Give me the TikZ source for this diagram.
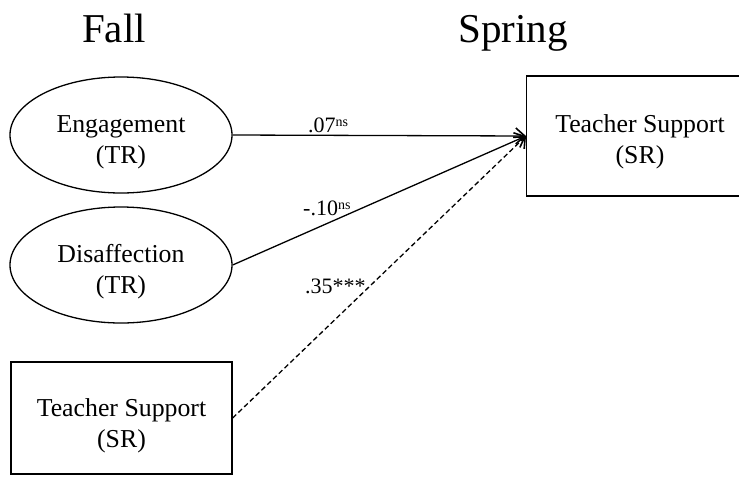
\documentclass[tikz,border=0pt]{standalone}
\usepackage{fontspec}
\setmainfont{Liberation Serif}
\usetikzlibrary{arrows.meta,shapes.geometric}
\begin{document}
\begin{tikzpicture}[x=1pt,y=-1pt,
  title/.style={font=\fontsize{41}{48}\selectfont, anchor=base, inner sep=0pt},
  oval/.style={draw, line width=1.3pt, ellipse, minimum width=222pt, minimum height=116pt, inner sep=0pt},
  boxnode/.style={draw, line width=1.3pt, rectangle, inner sep=0pt},
  txt/.style={font=\fontsize{25.8}{31}\selectfont, align=center, inner sep=0pt},
  coef/.style={font=\fontsize{22}{24}\selectfont, anchor=base west, inner sep=0pt},
  path/.style={line width=1.3pt, -{Straight Barb[length=9pt,width=16pt,line width=1.6pt]}},
  sig/.style={dash pattern=on 5pt off 3pt}
]
\useasboundingbox (0,0) rectangle (739,483);

\node[title] (fall) at (114,42) {Fall};
\node[title] (spring) at (513,42) {Spring};

\node[oval] (eng) at (121,135) {};
\node[oval] (dis) at (121,265) {};
\node[boxnode, minimum width=221pt, minimum height=112pt] (tsf) at (121.5,418) {};
\node[boxnode, minimum width=214pt, minimum height=120pt, anchor=west] (tss) at (526,136) {};

\node[txt] (engt) at ([yshift=-7pt]eng.center) {Engagement\\(TR)};
\node[txt] (dist) at ([yshift=-7pt]dis.center) {Disaffection\\(TR)};
\node[txt] (tsft) at ([yshift=-8pt]tsf.center) {Teacher Support\\(SR)};
\node[txt] (tsst) at ([yshift=-6pt]526+114,136) {Teacher Support\\(SR)};

\draw[path] (eng.east) -- (tss.west);
\draw[path] (dis.east) -- (tss.west);
\draw[path, sig] (tsf.east) -- (tss.west);

\node[coef] (c1) at (308,132) {.07\raisebox{6pt}{\fontsize{14}{14}\selectfont ns}};
\node[coef] (c2) at (303,215) {-.10\raisebox{6pt}{\fontsize{14}{14}\selectfont ns}};
\node[coef] (c3) at (305,293) {.35***};
\end{tikzpicture}
\end{document}
